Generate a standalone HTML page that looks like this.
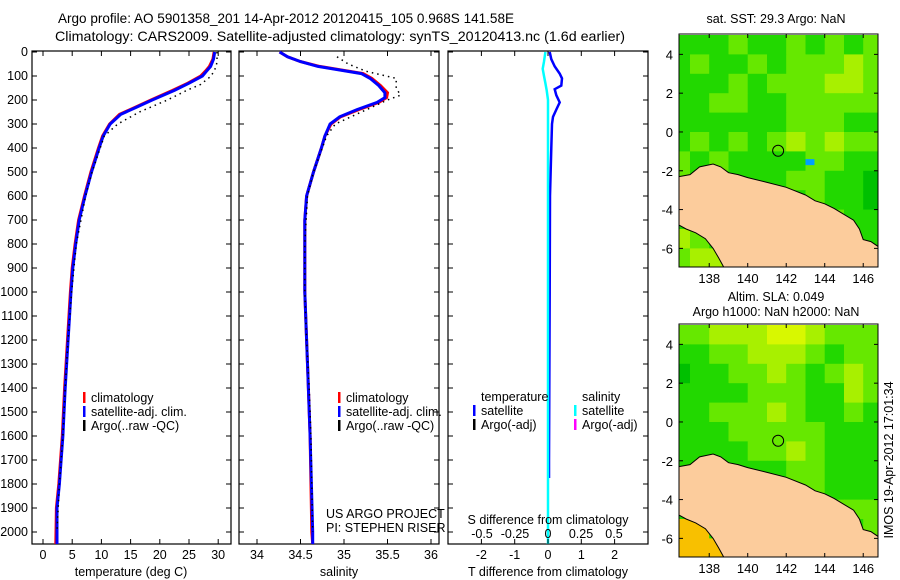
<!DOCTYPE html>
<html><head><meta charset="utf-8"><style>
body{margin:0;background:#fff}
svg{display:block;font-family:"Liberation Sans",sans-serif;font-size:12.5px}
</style></head><body>
<svg id="c" width="900" height="580" xmlns="http://www.w3.org/2000/svg">
<text x="58" y="23" textLength="456" lengthAdjust="spacingAndGlyphs" style="font-size:14px">Argo profile: AO 5901358_201 14-Apr-2012 20120415_105 0.968S 141.58E</text>
<text x="55" y="41" textLength="570" lengthAdjust="spacingAndGlyphs" style="font-size:14px">Climatology: CARS2009. Satellite-adjusted climatology: synTS_20120413.nc (1.6d earlier)</text>
<text x="776" y="23" text-anchor="middle">sat. SST: 29.3 Argo: NaN</text>
<text x="776" y="301" text-anchor="middle">Altim. SLA: 0.049</text>
<text x="776" y="316" text-anchor="middle">Argo h1000: NaN h2000: NaN</text>
<text transform="translate(893,460) rotate(-90)" text-anchor="middle">IMOS 19-Apr-2012 17:01:34</text>
</svg>
<script>
// ---- profile data ----
const tDepth=[0,30,60,80,100,130,160,200,230,260,300,350,400,500,600,700,800,900,1000,1200,1400,1600,1800,1900,2050];
const tSat=[29.4,29.2,28.7,28.0,27.3,25.0,22.5,18.7,16.0,13.3,11.5,10.3,9.6,8.3,7.2,6.2,5.6,5.1,4.8,4.3,3.8,3.4,2.8,2.4,2.4];
const tClim=[29.3,29.1,28.5,27.8,27.0,24.8,22.2,18.5,15.8,13.1,11.4,10.2,9.5,8.2,7.1,6.1,5.5,5.0,4.7,4.2,3.7,3.3,2.7,2.3,2.2];
const aDepth=[0,30,60,100,135,160,200,250,300,350,400,500,600,800,1000,1200,1400,1600,1800,2000];
const tArgo=[29.8,29.8,29.7,28.8,27.0,24.6,21.3,16.5,12.8,10.5,9.8,8.4,7.3,5.7,4.9,4.3,3.8,3.4,2.8,2.4];
const sDepth=[0,20,40,60,75,90,110,140,170,190,210,240,270,300,350,400,500,600,700,1000,1300,1600,2000,2050];
const sSat=[34.26,34.35,34.5,34.7,34.95,35.2,35.3,35.4,35.47,35.47,35.38,35.15,34.95,34.84,34.78,34.74,34.65,34.57,34.55,34.55,34.58,34.61,34.64,34.64];
const sClim=[34.26,34.35,34.5,34.72,34.97,35.22,35.32,35.42,35.5,35.49,35.4,35.17,34.96,34.85,34.78,34.74,34.65,34.57,34.55,34.55,34.58,34.61,34.63,34.64];
const saDepth=[20,50,80,110,150,180,200,250,300,350,400,500,600,800,1000,1200,1400,1600,1800,2000];
const sArgo=[34.92,35.05,35.25,35.6,35.6,35.65,35.5,35.2,34.9,34.8,34.75,34.65,34.58,34.55,34.55,34.57,34.6,34.62,34.63,34.64];
const dtDepth=[0,30,60,90,110,140,155,180,210,240,270,300,400,600,1000,1700,1775];
const dT=[0.05,0.1,0.2,0.35,0.42,0.4,0.2,0.25,0.35,0.25,0.15,0.12,0.1,0.06,0.05,0.03,0.03];
const dsDepth=[0,40,70,100,130,160,200,300,600,1000,2050];
const dS=[-0.02,-0.03,-0.04,-0.03,-0.02,-0.01,0,0,0,0,0];
const depthTicks=[0,100,200,300,400,500,600,700,800,900,1000,1100,1200,1300,1400,1500,1600,1700,1800,1900,2000];
const tTicks=[0,5,10,15,20,25,30];
const sTicks=[34,34.5,35,35.5,36];
const dtTicks=[-2,-1,0,1,2];
const dsTicks=[-0.5,-0.25,0,0.25,0.5];
const dsTickLabels=["-0.5","-0.25","0","0.25","0.5"];
// ---- map data (1-degree cells, palette index 0..5, rows lat 5..-7, cols lon 136..146) ----
const mapLons=[136,137,138,139,140,141,142,143,144,145,146];
const mapLats=[5,4,3,2,1,0,-1,-2,-3,-4,-5,-6];
const sstGrid=[
[1,1,1,2,1,1,2,1,2,1,2],
[1,2,1,1,2,1,2,2,2,3,2],
[1,1,1,2,1,2,2,2,3,3,2],
[1,1,2,2,1,1,2,2,2,2,2],
[1,1,1,1,1,1,2,2,2,1,1],
[1,2,1,2,1,2,3,2,3,2,2],
[2,1,2,1,1,1,1,2,2,1,1],
[2,1,1,1,1,1,2,2,1,1,0],
[1,1,1,1,1,1,1,2,1,1,0],
[1,1,1,1,1,1,1,1,2,1,1],
[3,2,1,1,1,1,1,1,1,1,1],
[2,3,3,1,1,1,1,1,1,1,1]];
const slaGrid=[
[2,2,3,3,3,4,4,3,2,2,2],
[1,1,2,2,3,3,3,2,1,2,2],
[0,1,1,2,2,3,2,1,2,3,2],
[1,1,1,1,2,2,2,1,1,3,2],
[1,1,2,2,2,3,2,1,1,2,1],
[1,1,1,2,2,2,2,2,1,1,1],
[1,1,1,1,2,2,3,2,1,1,1],
[1,1,1,1,1,1,2,2,1,1,1],
[1,1,1,1,1,1,2,2,1,1,1],
[1,1,1,1,1,1,1,2,2,2,2],
[5,5,1,1,1,1,1,1,1,1,2],
[5,5,5,1,1,1,1,1,1,1,1]];
const palette=["#00c000","#22d800","#66e800","#a8f000","#d8f800","#f8c000"];
const coastLon=[136.43,137.0,137.5,138.2,138.6,139,139.5,140,141,142,143,143.5,144,144.5,145,145.5,145.8,146,146.4,146.77,146.77,138.8,138.5,138.2,137.8,137.3,136.8,136.43];
const coastLat=[-2.3,-2.2,-1.8,-1.65,-1.8,-2.1,-2.2,-2.35,-2.6,-2.85,-3.25,-3.55,-3.7,-3.95,-4.25,-4.55,-5.0,-5.55,-5.65,-5.9,-7.05,-7.05,-6.5,-6.0,-5.5,-5.2,-5.0,-4.8];
const argoLon=141.58, argoLat=-0.968;
const latTicks=[4,2,0,-2,-4,-6];
const lonTicks=[138,140,142,144,146];

const svg=document.getElementById('c');
const NS='http://www.w3.org/2000/svg';
function mk(tag,attrs,parent){const e=document.createElementNS(NS,tag);for(const k in attrs)e.setAttribute(k,attrs[k]);(parent||svg).appendChild(e);return e;}
function txt(x,y,s,anchor,parent){const e=mk('text',{x:x,y:y,'text-anchor':anchor||'start'},parent);e.textContent=s;return e;}
const yD=d=>52+d*0.24;
const PT=51,PB=544;
function panel(x0,x1,name){
  const g=mk('g',{});
  
  
  return g;
}
function frame(g,x0,x1){
  const r=mk('rect',{x:x0,y:PT,width:x1-x0,height:PB-PT,fill:'none',stroke:'#000','stroke-width':1.2},g);
  
  
  depthTicks.forEach(d=>{mk('line',{x1:x0,x2:x0+5,y1:yD(d),y2:yD(d),stroke:'#000'},g);mk('line',{x1:x1-5,x2:x1,y1:yD(d),y2:yD(d),stroke:'#000'},g);});
}
function line(g,xs,ds,fx,color,w,dash,name){
  const pts=xs.map((v,i)=>fx(v).toFixed(1)+','+yD(ds[i]).toFixed(1)).join(' ');
  const p=mk('polyline',{points:pts,fill:'none',stroke:color,'stroke-width':w},g);
  if(dash)p.setAttribute('stroke-dasharray',dash);
  
  
}
function xticks(g,ticks,labels,fx,y){
  ticks.forEach((t,i)=>{const x=fx(t);mk('line',{x1:x,x2:x,y1:PB,y2:PB-5,stroke:'#000'},g);mk('line',{x1:x,x2:x,y1:PT,y2:PT+5,stroke:'#000'},g);
    const l=txt(x,y,labels[i],'middle',g);
    
    });
}
function legend(g,x,y0,items){
  items.forEach((it,i)=>{const y=y0+i*14;mk('rect',{x:x,y:y-10,width:2.5,height:11,fill:it[1]},g);
    const l=txt(x+8,y,it[0],'start',g);
    
    });
}
// Temperature panel
const fT=t=>43+t*5.84;
let g=panel(32,231,'temperature-panel');
frame(g,32,231);
line(g,tClim,tDepth,fT,'#f00',3,null,'climatology-temp-line');
line(g,tSat,tDepth,fT,'#00f',3,null,'satellite-temp-line');
line(g,tArgo,aDepth,fT,'#000',1.5,'1.5,4','argo-temp-line');
xticks(g,tTicks,tTicks.map(String),fT,559);
const tl=txt(131,576,'temperature (deg C)','middle',g);


depthTicks.forEach(d=>{const l=txt(28,yD(d)+4,String(d),'end',g);
  
  });
legend(g,83,402,[['climatology','#f00'],['satellite-adj. clim.','#00f'],['Argo(..raw -QC)','#000']]);
// Salinity panel
const fS=s=>257+(s-34)*87;
g=panel(239,439,'salinity-panel');
frame(g,239,439);
line(g,sClim,sDepth,fS,'#f00',3,null,'climatology-sal-line');
line(g,sSat,sDepth,fS,'#00f',3,null,'satellite-sal-line');
line(g,sArgo,saDepth,fS,'#000',1.5,'1.5,4','argo-sal-line');
xticks(g,sTicks,sTicks.map(String),fS,559);
const sl=txt(339,576,'salinity','middle',g);


legend(g,338,402,[['climatology','#f00'],['satellite-adj. clim.','#00f'],['Argo(..raw -QC)','#000']]);
const pi1=txt(326,518,'US ARGO PROJECT','start',g);


const pi2=txt(326,532,'PI: STEPHEN RISER','start',g);


// Difference panel
const fDT=v=>548+v*33.3;
const fDS=v=>548+v*132;
g=panel(448,648,'difference-panel');
frame(g,448,648);
line(g,dT,dtDepth,fDT,'#00f',2.5,null,'temp-diff-line');
line(g,dS,dsDepth,fDS,'#0ff',2.5,null,'sal-diff-line');
xticks(g,dtTicks,dtTicks.map(String),fDT,559);
dsTicks.forEach((t,i)=>{const l=txt(fDS(t),538,dsTickLabels[i],'middle',g);
  
  });
const st=txt(548,524,'S difference from climatology','middle',g);


const tt=txt(548,576,'T difference from climatology','middle',g);


const lt=txt(481,401,'temperature','start',g);


const ls=txt(582,401,'salinity','start',g);


legend(g,473,415,[['satellite','#00f'],['Argo(-adj)','#000']]);
legend(g,574,415,[['satellite','#0ff'],['Argo(-adj)','#f0f']]);
// Maps
function map(top,grid,name,extra){
  const mg=mk('g',{});
  
  
  const L=679,R=878,T=top,B=top+233;
  const fx=lon=>L+(lon-136.43)*19.25;
  const fy=lat=>T+(5.05-lat)*19.4;
  const clip='clip'+top;
  const cp=mk('clipPath',{id:clip},mg);mk('rect',{x:L,y:T,width:R-L,height:B-T},cp);
  const cg=mk('g',{'clip-path':'url(#'+clip+')'},mg);
  grid.forEach((row,r)=>row.forEach((v,c)=>{
    const x0=fx(mapLons[c]),y0=fy(mapLats[r]);
    const cell=mk('rect',{x:x0.toFixed(1),y:y0.toFixed(1),width:19.8,height:20,fill:palette[v]},cg);
    
    
  }));
  if(extra)extra(cg,fx,fy);
  const pts=coastLon.map((lo,i)=>fx(lo).toFixed(1)+','+fy(coastLat[i]).toFixed(1)).join(' ');
  const land=mk('polygon',{points:pts,fill:'#fccc9c',stroke:'#000','stroke-width':1},cg);
  
  
  const circ=mk('circle',{cx:fx(argoLon),cy:fy(argoLat),r:5.5,fill:'none',stroke:'#000','stroke-width':1},mg);
  
  
  const fr=mk('rect',{x:L,y:T,width:R-L,height:B-T,fill:'none',stroke:'#000','stroke-width':1},mg);
  
  
  latTicks.forEach(la=>{const y=fy(la);mk('line',{x1:L,x2:L+4,y1:y,y2:y,stroke:'#000'},mg);mk('line',{x1:R-4,x2:R,y1:y,y2:y,stroke:'#000'},mg);
    const l=txt(673,y+5,String(la),'end',mg);l.setAttribute('style','font-size:13px');
    
    });
  lonTicks.forEach(lo=>{const x=fx(lo);mk('line',{x1:x,x2:x,y1:B,y2:B-4,stroke:'#000'},mg);mk('line',{x1:x,x2:x,y1:T,y2:T+4,stroke:'#000'},mg);
    const l=txt(x,B+16,String(lo),'middle',mg);l.setAttribute('style','font-size:13px');
    
    });
}
map(34,sstGrid,'sst-map',(cg,fx,fy)=>{const b=mk('rect',{x:fx(143.0),y:fy(-1.4),width:9,height:6,fill:'#00a0ff'},cg);
  
  });
map(324,slaGrid,'sla-map');
</script>
</body></html>
